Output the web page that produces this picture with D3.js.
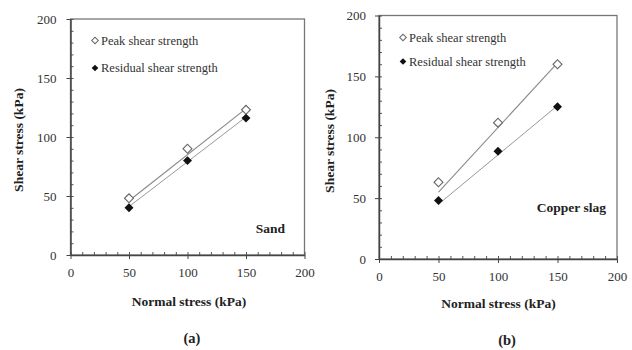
<!DOCTYPE html>
<html>
<head>
<meta charset="utf-8">
<script src="https://d3js.org/d3.v7.min.js"></script>
</head>
<body style="margin:0; background:#fff">
<svg width="632" height="350"></svg>
<script>
// normal stress values (kPa)
var normal = [50, 100, 150];
// panel (a) sand
var sandPeak = [48, 90, 123];
var sandResidual = [40, 80, 116];
// trend lines, at normal = 50 and 150
var trendX = [50, 150];
var sandPeakTrend = [46, 124];
var sandResidualTrend = [41, 117];
// panel (b) copper slag
var slagPeak = [63, 112, 160];
var slagResidual = [48, 88.5, 125];
var slagPeakTrend = [55, 161];
var slagResidualTrend = [45, 126];

var axisTicks = [0, 50, 100, 150, 200];
var minorTicks = d3.range(0, 201, 10);

var svg = d3.select("svg");

function drawPanel(cfg) {
  var x = d3.scaleLinear().domain([0, 200]).range([cfg.left, cfg.right]);
  var y = d3.scaleLinear().domain([0, 200]).range([cfg.bottom, cfg.top]);
  var g = svg.append("g");

  // frame
  g.append("rect")
    .attr("x", cfg.left).attr("y", cfg.top)
    .attr("width", cfg.right - cfg.left).attr("height", cfg.bottom - cfg.top)
    .attr("fill", "none").attr("stroke", "#777").attr("stroke-width", 1.3);

  // minor ticks (inward)
  g.append("g").attr("transform", "translate(0," + cfg.bottom + ")")
    .call(d3.axisBottom(x).tickValues(minorTicks).tickSize(-3).tickFormat(""))
    .call(function(s){ s.select(".domain").remove(); s.selectAll("line").attr("stroke", "#555"); });
  g.append("g").attr("transform", "translate(" + cfg.left + ",0)")
    .call(d3.axisLeft(y).tickValues(minorTicks).tickSize(-3).tickFormat(""))
    .call(function(s){ s.select(".domain").remove(); s.selectAll("line").attr("stroke", "#555"); });

  // major ticks with labels
  g.append("g").attr("transform", "translate(0," + cfg.bottom + ")")
    .call(d3.axisBottom(x).tickValues(axisTicks).tickSize(4).tickPadding(9).tickSizeOuter(0))
    .call(function(s){ s.select(".domain").attr("stroke", "#444").attr("stroke-width", 1.5); s.selectAll("line").attr("stroke", "#444"); });
  g.append("g").attr("transform", "translate(" + cfg.left + ",0)")
    .call(d3.axisLeft(y).tickValues(axisTicks).tickSize(4).tickPadding(cfg.ypad).tickSizeOuter(0))
    .call(function(s){ s.select(".domain").attr("stroke", "#444").attr("stroke-width", 1.5); s.selectAll("line").attr("stroke", "#444"); });
  g.selectAll(".tick text").attr("fill", "#333").style("font-size", "13px");

  // trend lines
  var line = d3.line().x(function(d){ return x(d[0]); }).y(function(d){ return y(d[1]); });
  g.append("path").datum(d3.zip(trendX, cfg.peakTrend)).attr("d", line)
    .attr("fill", "none").attr("stroke", "#888").attr("stroke-width", 1.1);
  g.append("path").datum(d3.zip(trendX, cfg.resTrend)).attr("d", line)
    .attr("fill", "none").attr("stroke", "#999").attr("stroke-width", 1);

  var diamond = d3.symbol(d3.symbolSquare, 40);
  var small = d3.symbol(d3.symbolSquare, 22);

  g.selectAll(".peak").data(d3.zip(normal, cfg.peak)).enter().append("path")
    .attr("d", diamond)
    .attr("transform", function(d){ return "translate(" + x(d[0]) + "," + y(d[1]) + ") rotate(45)"; })
    .attr("fill", "#fff").attr("stroke", "#666").attr("stroke-width", 1.1);
  g.selectAll(".res").data(d3.zip(normal, cfg.residual)).enter().append("path")
    .attr("d", diamond)
    .attr("transform", function(d){ return "translate(" + x(d[0]) + "," + y(d[1]) + ") rotate(45)"; })
    .attr("fill", "#111");

  // legend
  g.append("path").attr("d", small)
    .attr("transform", "translate(" + cfg.legX + "," + cfg.legY[0] + ") rotate(45)")
    .attr("fill", "#fff").attr("stroke", "#666");
  g.append("text").attr("class", "legend")
    .attr("x", cfg.legX + 6).attr("y", cfg.legY[0]).attr("dy", "0.35em")
    .text("Peak shear strength");
  g.append("path").attr("d", small)
    .attr("transform", "translate(" + cfg.legX + "," + cfg.legY[1] + ") rotate(45)")
    .attr("fill", "#111");
  g.append("text").attr("class", "legend")
    .attr("x", cfg.legX + 6).attr("y", cfg.legY[1]).attr("dy", "0.35em")
    .text("Residual shear strength");
  g.selectAll(".legend").attr("fill", "#333").style("font-size", "12.5px");

  // material label
  g.append("text").attr("class", "title")
    .attr("x", cfg.matX).attr("y", cfg.matY).attr("dy", "0.35em").attr("text-anchor", "end")
    .text(cfg.material);

  // axis titles
  g.append("text").attr("class", "title")
    .attr("x", cfg.xTitle[0]).attr("y", cfg.xTitle[1]).attr("dy", "0.35em").attr("text-anchor", "middle")
    .text("Normal stress (kPa)");
  g.append("text").attr("class", "title")
    .attr("transform", "translate(" + cfg.yTitle[0] + "," + cfg.yTitle[1] + ") rotate(-90)")
    .attr("dy", "0.35em").attr("text-anchor", "middle")
    .text("Shear stress (kPa)");
  g.append("text").attr("class", "title caption")
    .attr("x", cfg.caption[0]).attr("y", cfg.caption[1]).attr("dy", "0.35em").attr("text-anchor", "middle")
    .text(cfg.label);
  g.selectAll(".title").attr("fill", "#222").style("font-size", "13.5px").style("font-weight", "bold");
  g.selectAll(".caption").style("font-size", "14.5px");
}

drawPanel({
  left: 70.5, right: 304.5, top: 19, bottom: 255, ypad: 10,
  peak: sandPeak, residual: sandResidual,
  peakTrend: sandPeakTrend, resTrend: sandResidualTrend,
  legX: 95, legY: [40.5, 68],
  material: "Sand", matX: 285, matY: 228,
  xTitle: [189, 301], yTitle: [18, 140], caption: [192, 338], label: "(a)"
});

drawPanel({
  left: 379, right: 617, top: 15.5, bottom: 259, ypad: 9,
  peak: slagPeak, residual: slagResidual,
  peakTrend: slagPeakTrend, resTrend: slagResidualTrend,
  legX: 403, legY: [37.5, 61.5],
  material: "Copper slag", matX: 606, matY: 207,
  xTitle: [498.5, 303], yTitle: [329, 141], caption: [507, 340], label: "(b)"
});

// serif face everywhere, one family name only
svg.selectAll("g").attr("font-family", null);
svg.selectAll("text").style("font-family", "'Liberation Serif'");
</script>
</body>
</html>
